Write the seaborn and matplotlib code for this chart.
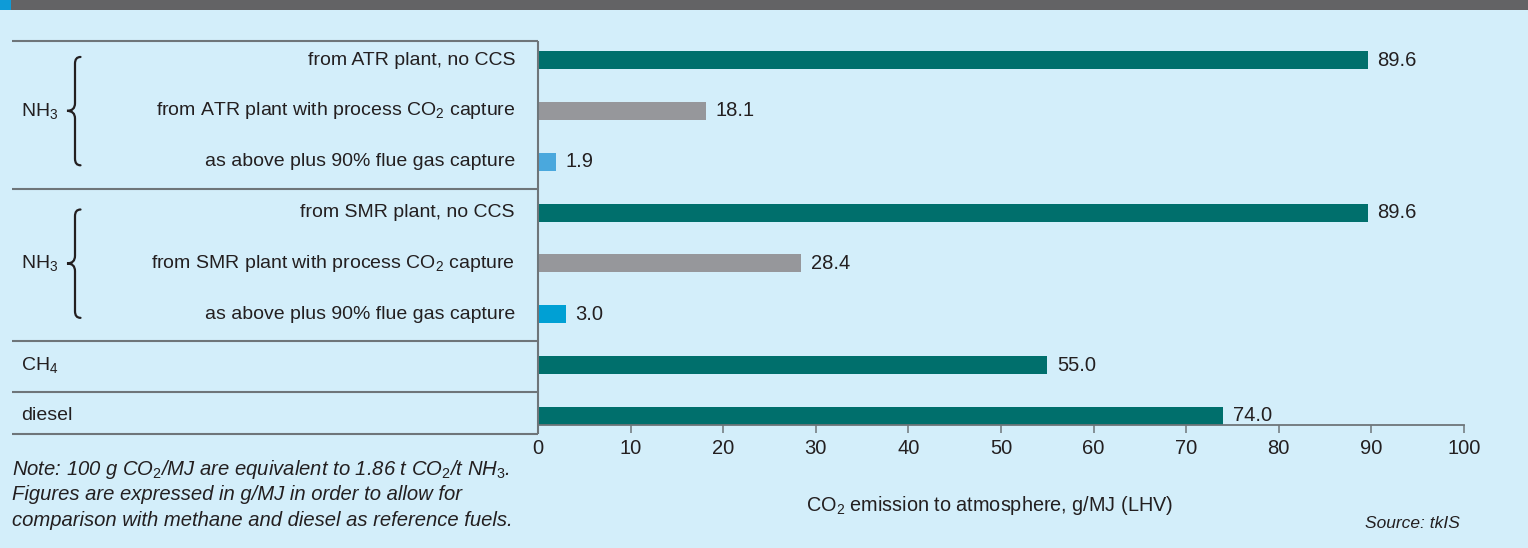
import matplotlib
matplotlib.use("Agg")
import matplotlib.pyplot as plt
import matplotlib.transforms as mtransforms
from matplotlib.path import Path
from matplotlib.patches import PathPatch, Rectangle
import seaborn as sns
import pandas as pd

# ---- data -------------------------------------------------------------
categories = [
    "ATR, no CCS", "ATR + process capture", "ATR + flue gas capture",
    "SMR, no CCS", "SMR + process capture", "SMR + flue gas capture",
    "CH4", "diesel",
]
emissions = [89.6, 18.1, 1.9, 89.6, 28.4, 3.0, 55.0, 74.0]
row_labels = [
    "from ATR plant, no CCS",
    "from ATR plant with process CO$_2$ capture",
    "as above plus 90% flue gas capture",
    "from SMR plant, no CCS",
    "from SMR plant with process CO$_2$ capture",
    "as above plus 90% flue gas capture",
    "", "",
]
# (label, first row, last row, draw brace)
groups = [
    ("NH$_3$", 0, 2, True),
    ("NH$_3$", 3, 5, True),
    ("CH$_4$", 6, 6, False),
    ("diesel", 7, 7, False),
]
x_ticks = [0, 10, 20, 30, 40, 50, 60, 70, 80, 90, 100]
x_label = "CO$_2$ emission to atmosphere, g/MJ (LHV)"
note_lines = [
    r"Note: 100 g CO$_{\mathit{2}}$/MJ are equivalent to 1.86 t CO$_{\mathit{2}}$/t NH$_{\mathit{3}}$.",
    "Figures are expressed in g/MJ in order to allow for",
    "comparison with methane and diesel as reference fuels.",
]
source_text = "Source: tkIS"

# ---- style -------------------------------------------------------------
BG = "#D3EEFA"
INK = "#231F20"
RULE = "#6E7579"
TEAL = "#006F6C"
GREY = "#96979B"
SKY = "#4AA8DD"
CYAN = "#00A0D4"
bar_colors = [TEAL, GREY, SKY, TEAL, GREY, CYAN, TEAL, TEAL]
FS = 14.0

sns.set_theme(style="white")
plt.rcParams["font.family"] = ["Liberation Sans", "DejaVu Sans"]
plt.rcParams["mathtext.fontset"] = "custom"
plt.rcParams["mathtext.rm"] = "Liberation Sans"
plt.rcParams["mathtext.it"] = "Liberation Sans:italic"
plt.rcParams["mathtext.default"] = "regular"

W, H = 1528, 548
fig = plt.figure(figsize=(W / 100, H / 100), dpi=100, facecolor=BG)
ax = fig.add_axes([538 / W, 123 / H, 926 / W, 395.5 / H])
ax.set_facecolor("none")

df = pd.DataFrame({"fuel": categories, "co2": emissions})
sns.barplot(data=df, x="co2", y="fuel", hue="fuel", palette=bar_colors,
            orient="h", width=0.354, saturation=1, linewidth=0,
            legend=False, ax=ax)

ax.set_xlim(0, 100)
ax.set_ylim(7.177, -0.6)
ax.set_xticks(x_ticks)
ax.set_yticks([])
ax.set_ylabel("")
for side in ("top", "right", "left"):
    ax.spines[side].set_visible(False)
ax.spines["bottom"].set_color(RULE)
ax.spines["bottom"].set_linewidth(1.3)
ax.tick_params(axis="x", direction="out", length=6, width=1.1, color=RULE,
               labelsize=14.5, labelcolor=INK, pad=4, bottom=True)
ax.set_xlabel(x_label, fontsize=14.3, color=INK, labelpad=26)
ax.xaxis.label.set_x((990 - 538) / 926)

# value labels at the end of each bar
for cont in ax.containers:
    ax.bar_label(cont, fmt="%.1f", padding=7, fontsize=14.5, color=INK)

# ---- label panel on the left -------------------------------------------
blend = mtransforms.blended_transform_factory(ax.transAxes, ax.transData)
px = lambda p: (p - 538) / 926.0   # pixel column -> axes fraction

for i, lab in enumerate(row_labels):
    if lab:
        ax.text(px(515), i, lab, transform=blend, ha="right", va="center",
                fontsize=FS, color=INK, clip_on=False)

edges = [groups[0][1] - 0.37]
for k, (name, r0, r1, brace) in enumerate(groups):
    last = k == len(groups) - 1
    edges.append(r1 + (0.354 if last else 0.53))
    ax.text(px(21), (r0 + r1) / 2, name, transform=blend, ha="left",
            va="center", fontsize=FS, color=INK, clip_on=False)
    if brace:
        top, bot, mid = r0 - 0.06, r1 + 0.07, (r0 + r1) / 2
        xs, xh, xp = px(75), px(80.5), px(67)
        verts = [(xh, top), (xs, top), (xs, top + 0.13),
                 (xs, mid - 0.15), (xs, mid), (xp, mid),
                 (xs, mid), (xs, mid + 0.15),
                 (xs, bot - 0.13), (xs, bot), (xh, bot)]
        codes = [Path.MOVETO, Path.CURVE3, Path.CURVE3,
                 Path.LINETO, Path.CURVE3, Path.CURVE3,
                 Path.CURVE3, Path.CURVE3,
                 Path.LINETO, Path.CURVE3, Path.CURVE3]
        ax.add_patch(PathPatch(Path(verts, codes), transform=blend,
                               fill=False, lw=1.6, ec=INK, clip_on=False,
                               capstyle="round"))

for y in edges:
    ax.plot([px(12), 0], [y, y], transform=blend, color=RULE, lw=1.5,
            clip_on=False, solid_capstyle="butt")
ax.plot([0, 0], [edges[0], edges[-1]], transform=blend, color=RULE, lw=1.5,
        clip_on=False, solid_capstyle="butt")

# ---- header strip, note and source ------------------------------------
fig.patches.append(Rectangle((0, 1 - 10 / H), 1, 10 / H, transform=fig.transFigure,
                             fc="#636365", ec="none", zorder=0))
fig.patches.append(Rectangle((0, 1 - 10 / H), 11 / W, 10 / H, transform=fig.transFigure,
                             fc="#0E9BD7", ec="none", zorder=1))

for k, line in enumerate(note_lines):
    fig.text(12 / W, 1 - (475 + 25.5 * k) / H, line, ha="left", va="baseline",
             fontsize=14.6, style="italic", color=INK)

fig.text(1460 / W, 1 - 528 / H, source_text, ha="right", va="baseline",
         fontsize=12.5, style="italic", color=INK)

fig.savefig("out.png", dpi=100, facecolor=BG)
